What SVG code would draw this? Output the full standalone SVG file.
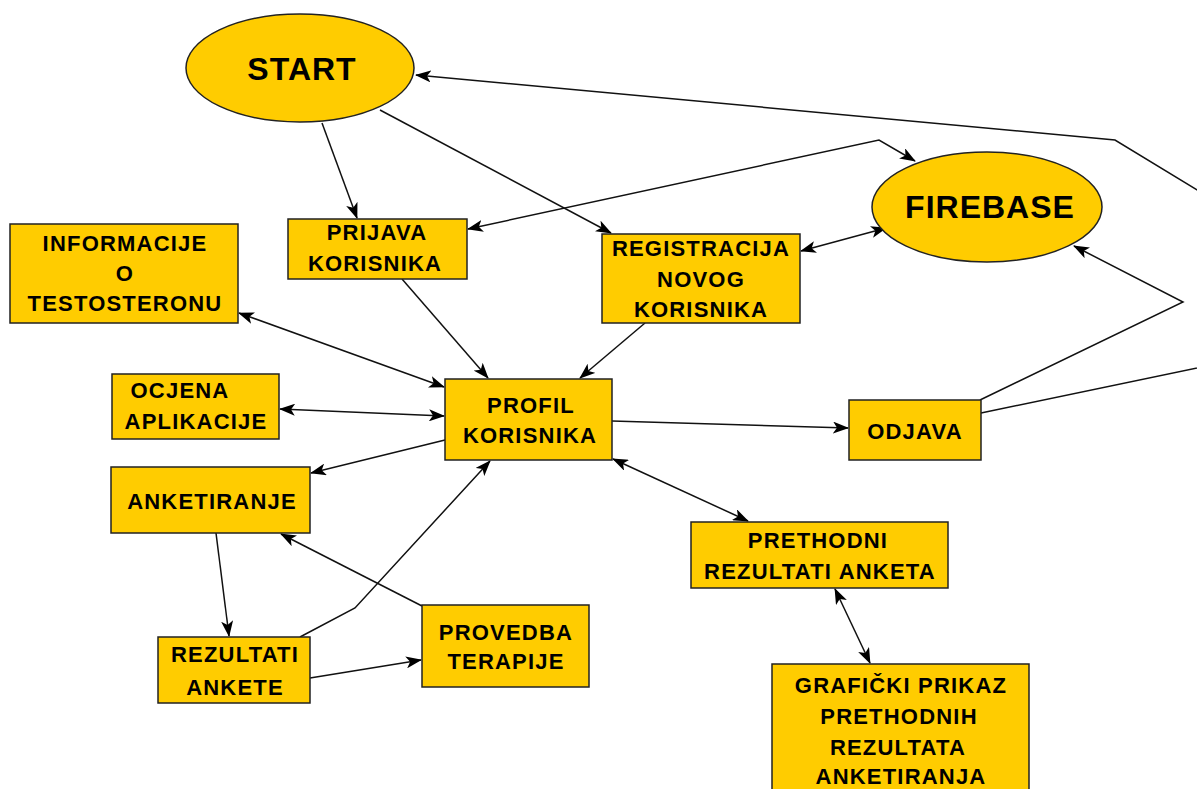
<svg xmlns="http://www.w3.org/2000/svg" width="1197" height="789" viewBox="0 0 1197 789">
<defs>
<marker id="arr" viewBox="0 0 16 12" refX="15" refY="6" markerWidth="16" markerHeight="12" markerUnits="userSpaceOnUse" orient="auto-start-reverse">
<path d="M0,0 L16,6 L0,12 L4,6 Z" fill="#000"/>
</marker>
<style>
.n{fill:#FFCC00;stroke:#222;stroke-width:1.5}
.t{font-family:"Liberation Sans",Arial,sans-serif;font-weight:bold;font-size:22px;letter-spacing:1.2px;text-anchor:middle;fill:#000}
.big{font-size:32px;letter-spacing:1px}
.c{fill:none;stroke:#111;stroke-width:1.5}
.a{marker-end:url(#arr)}
.b{marker-start:url(#arr);marker-end:url(#arr)}
</style>
</defs>
<rect width="1197" height="789" fill="#fff"/>
<g id="connectors">
<line class="c a" x1="322" y1="123" x2="357" y2="218"/>
<line class="c a" x1="380" y1="110" x2="611" y2="233"/>
<polyline class="c b" points="468,229 879,140 915,161"/>
<line class="c b" x1="801" y1="251" x2="886" y2="228"/>
<polyline class="c a" points="981,413 1240,359 1240,216 1115,140 416,75"/>
<polyline class="c a" points="980,400 1183,302 1074,246"/>
<line class="c a" x1="402" y1="279" x2="488" y2="378"/>
<line class="c a" x1="645" y1="323" x2="580" y2="378"/>
<line class="c b" x1="239" y1="313" x2="444" y2="387"/>
<line class="c b" x1="280" y1="409" x2="444" y2="416"/>
<line class="c a" x1="445" y1="440" x2="311" y2="473"/>
<line class="c a" x1="612" y1="421" x2="848" y2="428"/>
<line class="c b" x1="613" y1="459" x2="748" y2="521"/>
<line class="c b" x1="835" y1="589" x2="870" y2="663"/>
<line class="c a" x1="216" y1="533" x2="229" y2="636"/>
<polyline class="c a" points="300,637 355,608 490,461"/>
<line class="c a" x1="422" y1="606" x2="281" y2="534"/>
<line class="c a" x1="310" y1="678" x2="421" y2="660"/>
</g>
<g id="start"><ellipse class="n" cx="300" cy="68" rx="114" ry="54"/><text class="t big" x="302" y="80">START</text></g>
<g id="firebase"><ellipse class="n" cx="987" cy="207" rx="115" ry="55"/><text class="t big" x="990" y="218">FIREBASE</text></g>
<g id="prijava"><rect class="n" x="288" y="219" width="179" height="60"/><text class="t" x="377" y="240">PRIJAVA</text><text class="t" x="375" y="271">KORISNIKA</text></g>
<g id="informacije"><rect class="n" x="10" y="224" width="228" height="99"/><text class="t" x="125" y="251">INFORMACIJE</text><text class="t" x="125" y="281">O</text><text class="t" x="125" y="311">TESTOSTERONU</text></g>
<g id="registracija"><rect class="n" x="602" y="234" width="198" height="89"/><text class="t" x="701" y="256">REGISTRACIJA</text><text class="t" x="701" y="287">NOVOG</text><text class="t" x="701" y="317">KORISNIKA</text></g>
<g id="ocjena"><rect class="n" x="112" y="374" width="167" height="65"/><text class="t" x="180" y="398">OCJENA</text><text class="t" x="196" y="429">APLIKACIJE</text></g>
<g id="profil"><rect class="n" x="445" y="379" width="167" height="81"/><text class="t" x="531" y="413">PROFIL</text><text class="t" x="530" y="443">KORISNIKA</text></g>
<g id="odjava"><rect class="n" x="849" y="400" width="132" height="60"/><text class="t" x="915" y="439">ODJAVA</text></g>
<g id="anketiranje"><rect class="n" x="111" y="467" width="199" height="66"/><text class="t" x="212" y="509">ANKETIRANJE</text></g>
<g id="prethodni"><rect class="n" x="691" y="522" width="257" height="66"/><text class="t" x="818" y="548">PRETHODNI</text><text class="t" x="820" y="579">REZULTATI ANKETA</text></g>
<g id="rezultati"><rect class="n" x="158" y="637" width="152" height="66"/><text class="t" x="235" y="662">REZULTATI</text><text class="t" x="235" y="695">ANKETE</text></g>
<g id="provedba"><rect class="n" x="422" y="605" width="167" height="82"/><text class="t" x="506" y="640">PROVEDBA</text><text class="t" x="506" y="669">TERAPIJE</text></g>
<g id="graficki"><rect class="n" x="772" y="664" width="257" height="140"/><text class="t" x="901" y="693">GRAFIČKI PRIKAZ</text><text class="t" x="899" y="724">PRETHODNIH</text><text class="t" x="898" y="755">REZULTATA</text><text class="t" x="901" y="784">ANKETIRANJA</text></g>
</svg>
